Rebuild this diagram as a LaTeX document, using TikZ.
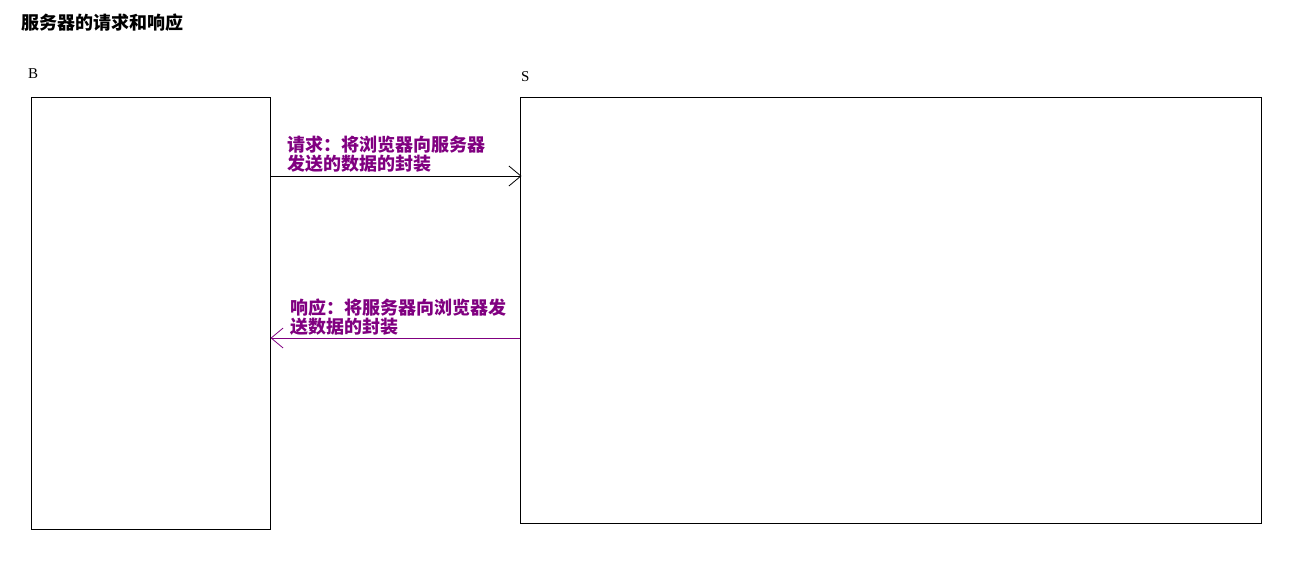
\documentclass[tikz,border=0pt]{standalone}
\usepackage{fontspec}
\setmainfont{Liberation Serif}
\newfontfamily\cjk{Noto Sans CJK SC}
\usetikzlibrary{arrows.meta}
\definecolor{msgpurple}{HTML}{800080}
\tikzstyle{machine} = [rectangle, draw=black, line width=1pt, inner sep=0pt]
\tikzstyle{tag} = [inner sep=0pt, anchor=west, font=\fontsize{15}{15}\selectfont]
\tikzstyle{msg} = [inner sep=0pt, anchor=north west, align=left, text=msgpurple, font=\cjk\bfseries\fontsize{18}{16}\selectfont]
\tikzstyle{arrow} = [line width=1pt, -{Straight Barb[length=12pt, width=20pt, line width=0.8pt]}]

\begin{document}
\begin{tikzpicture}[x=1pt, y=1pt]
\useasboundingbox (0,0) rectangle (1290,-578);
\node (title) [inner sep=0pt, anchor=west, font=\cjk\bfseries\fontsize{18}{18}\selectfont] at (21,-23) {服务器的请求和响应};
\node (B) [machine, minimum width=239pt, minimum height=432pt] at (150.5,-313) {};
\node (S) [machine, minimum width=741pt, minimum height=426pt] at (890.5,-310) {};
\node (Blabel) [tag] at (28,-74) {B};
\node (Slabel) [tag] at (521,-77) {S};
\coordinate (reqy) at (0,-176);
\coordinate (resy) at (0,-338);
\node (reqtext) [msg] at (287,-136) {请求：将浏览器向服务器\\发送的数据的封装};
\node (restext) [msg] at (290,-299) {响应：将服务器向浏览器发\\送数据的封装};

\draw [arrow] (B.east |- reqy) -- ([xshift=2pt]S.west |- reqy);
\draw [arrow, msgpurple] (S.west |- resy) -- (B.east |- resy);
\end{tikzpicture}
\end{document}
